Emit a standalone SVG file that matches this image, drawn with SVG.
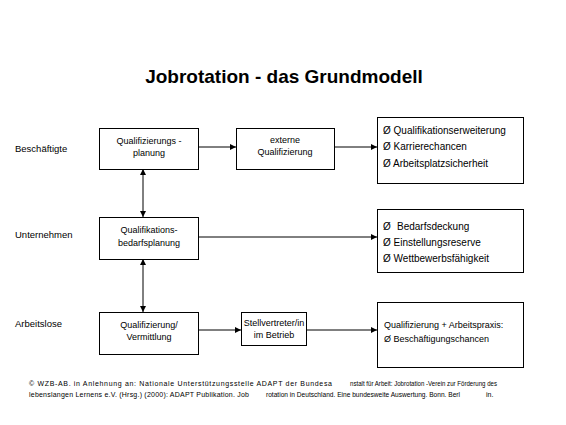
<svg xmlns="http://www.w3.org/2000/svg" width="566" height="425" viewBox="0 0 566 425">
<defs>
<marker id="ah" viewBox="0 0 8 8" refX="8" refY="4" markerWidth="6" markerHeight="6" markerUnits="userSpaceOnUse" orient="auto-start-reverse">
<path d="M0,0 L8,4 L0,8 z" fill="#000"/>
</marker>
<style>
.box{fill:#fff;stroke:#000;stroke-width:1}
.t{font-family:"Liberation Sans",Arial,sans-serif;font-size:9px;fill:#000}
.c{text-anchor:middle}
.r{font-family:"Liberation Sans",Arial,sans-serif;font-size:10px;fill:#000}
.lbl{font-family:"Liberation Sans",Arial,sans-serif;font-size:9.5px;fill:#000}
.f{font-family:"Liberation Sans",Arial,sans-serif;font-size:7px;fill:#000}
.ln{stroke:#000;stroke-width:1;fill:none}
</style>
</defs>
<rect width="566" height="425" fill="#fff"/>
<text x="284" y="83" text-anchor="middle" font-family="Liberation Sans, Arial, sans-serif" font-size="19" font-weight="bold">Jobrotation - das Grundmodell</text>

<g id="labels">
<text class="lbl" x="15" y="152">Beschäftigte</text>
<text class="lbl" x="15" y="238">Unternehmen</text>
<text class="lbl" x="15" y="327">Arbeitslose</text>
</g>

<g id="connectors">
<line class="ln" x1="198" y1="147" x2="236" y2="147" marker-end="url(#ah)"/>
<line class="ln" x1="334" y1="147" x2="377" y2="147" marker-end="url(#ah)"/>
<line class="ln" x1="198" y1="237" x2="377" y2="237" marker-end="url(#ah)"/>
<line class="ln" x1="198" y1="330" x2="241" y2="330" marker-end="url(#ah)"/>
<line class="ln" x1="306" y1="330" x2="377" y2="330" marker-end="url(#ah)"/>
<line class="ln" x1="143" y1="169" x2="143" y2="217" marker-start="url(#ah)" marker-end="url(#ah)"/>
<line class="ln" x1="143" y1="259" x2="143" y2="312" marker-start="url(#ah)" marker-end="url(#ah)"/>
</g>

<g id="qplanung">
<rect class="box" x="99.5" y="128.5" width="99" height="41"/>
<text class="t c" x="149" y="144">Qualifizierungs -</text>
<text class="t c" x="149" y="156">planung</text>
</g>
<g id="extern">
<rect class="box" x="236.5" y="128.5" width="98" height="41"/>
<text class="t c" x="285" y="143">externe</text>
<text class="t c" x="285" y="155">Qualifizierung</text>
</g>
<g id="res1">
<rect class="box" x="377.5" y="117.5" width="146" height="66"/>
<text class="r" x="383" y="134">Ø Qualifikationserweiterung</text>
<text class="r" x="383" y="150">Ø Karrierechancen</text>
<text class="r" x="383" y="167">Ø Arbeitsplatzsicherheit</text>
</g>
<g id="bedarf">
<rect class="box" x="99.5" y="217.5" width="99" height="42"/>
<text class="t c" x="149" y="233">Qualifikations-</text>
<text class="t c" x="149" y="246">bedarfsplanung</text>
</g>
<g id="res2">
<rect class="box" x="377.5" y="209.5" width="146" height="63"/>
<text class="r" x="383" y="230">Ø <tspan x="397">Bedarfsdeckung</tspan></text>
<text class="r" x="383" y="246">Ø Einstellungsreserve</text>
<text class="r" x="383" y="262">Ø Wettbewerbsfähigkeit</text>
</g>
<g id="vermittlung">
<rect class="box" x="99.5" y="312.5" width="99" height="42"/>
<text class="t c" x="149" y="328">Qualifizierung/</text>
<text class="t c" x="149" y="340">Vermittlung</text>
</g>
<g id="stellv">
<rect class="box" x="241.5" y="312.5" width="65" height="33"/>
<text class="t c" x="274" y="326" font-size="8">Stellvertreter/in</text>
<text class="t c" x="274" y="338" font-size="8">im Betrieb</text>
</g>
<g id="res3">
<rect class="box" x="377.5" y="302.5" width="146" height="65"/>
<text class="t" x="384" y="328" font-size="9.3">Qualifizierung + Arbeitspraxis:</text>
<text class="t" x="384" y="342" font-size="9.3">Ø Beschäftigungschancen</text>
</g>

<g id="footer">
<text class="f" x="29" y="386" textLength="303" lengthAdjust="spacing">© WZB-AB. in Anlehnung an: Nationale Unterstützungsstelle ADAPT der Bundesa</text>
<text class="f" x="350" y="386" textLength="147" lengthAdjust="spacingAndGlyphs">nstalt für Arbeit: Jobrotation -Verein zur Förderung des</text>
<text class="f" x="29" y="397" textLength="220" lengthAdjust="spacing">lebenslangen Lernens e.V. (Hrsg.) (2000): ADAPT Publikation. Job</text>
<text class="f" x="266" y="397" textLength="194" lengthAdjust="spacingAndGlyphs">rotation in Deutschland. Eine bundesweite Auswertung. Bonn. Berl</text>
<text class="f" x="486" y="397">in.</text>
</g>
</svg>
